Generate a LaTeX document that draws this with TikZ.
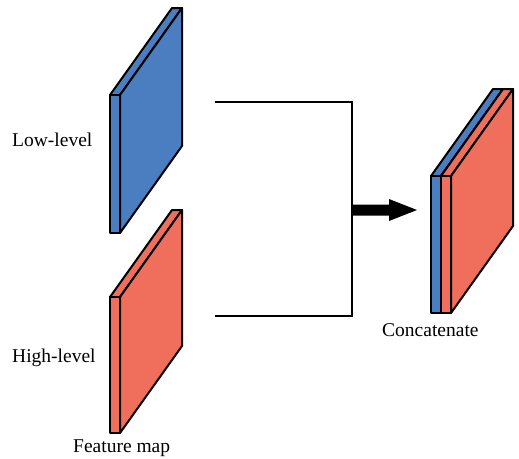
\documentclass[tikz,border=0pt]{standalone}
\usepackage{fontspec}
\setmainfont{Liberation Serif}
\definecolor{mapblue}{HTML}{4A7EC0}
\definecolor{mapred}{HTML}{EF6F5C}
% one feature-map slab: front top-left corner (#1,#2), height #3, fill #4
\newcommand\fmslab[4]{%
  \filldraw[slabline, fill=#4] (#1,#2) -- ++(10,0) -- ++(62,-87) -- ++(-10,0) -- cycle;
  \filldraw[slabline, fill=#4] (#1+10,#2) -- ++(62,-87) -- ++(0,#3) -- ++(-62,87) -- cycle;
  \filldraw[slabline, fill=#4] (#1,#2) rectangle ++(10,#3);
}
\begin{document}
\begin{tikzpicture}[x=1pt,y=-1pt,
  slabline/.style={draw=black, line width=2pt, line join=round},
  conn/.style={draw=black, line width=1.1pt},
  lbl/.style={anchor=base west, inner sep=0pt, font=\fontsize{19.5}{22}\selectfont}]
\useasboundingbox[fill=white] (0,0) rectangle (519,458);

% input feature maps
\fmslab{110}{95}{138}{mapblue}
\fmslab{110}{297}{136}{mapred}

% concatenated feature map
\fmslab{431}{176}{137}{mapblue}
\fmslab{441}{176}{137}{mapred}

% labels
\node[lbl] (low)  at (12,146) {Low-level};
\node[lbl] (high) at (12,362) {High-level};
\node[lbl] (fm)   at (73,452) {Feature map};
\node[lbl] (cat)  at (382,336) {Concatenate};

% merging connector
\coordinate (lt) at (215,102);
\coordinate (rt) at (352,102);
\coordinate (rb) at (352,316);
\coordinate (lb) at (215,316);
\coordinate (as) at (352,210);
\draw[conn] (lt) -- (rt) -- (rb) -- (lb);

% block arrow
\fill[black] (as) ++(0,-5.5) -- ++(37,0) -- ++(0,-5.5) -- ++(28,11) -- ++(-28,11)
  -- ++(0,-5.5) -- ++(-37,0) -- cycle;
\end{tikzpicture}
\end{document}
